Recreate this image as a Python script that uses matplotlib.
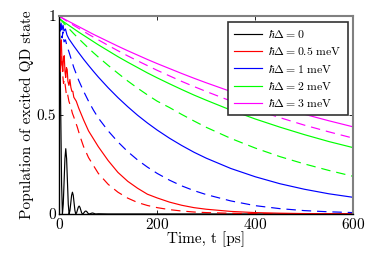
import numpy as np
import matplotlib
matplotlib.use('Agg')
import matplotlib.pyplot as plt

plt.rcParams['font.family'] = 'serif'
plt.rcParams['font.serif'] = ['cmr10', 'DejaVu Serif']
plt.rcParams['mathtext.fontset'] = 'cm'
plt.rcParams['axes.formatter.use_mathtext'] = True

# common time grid for the smooth curves [ps]
t_smooth = [0, 10, 20, 30, 40, 50, 60, 70, 80, 100, 120, 140, 160, 180, 200,
            225, 250, 275, 300, 350, 400, 450, 500, 550, 600]

# hbar*Delta = 3 meV
mag_solid = [1.000, 0.986, 0.973, 0.960, 0.947, 0.934, 0.921, 0.908, 0.896, 0.872,
             0.848, 0.825, 0.803, 0.781, 0.760, 0.735, 0.710, 0.686, 0.663, 0.619,
             0.578, 0.540, 0.504, 0.471, 0.440]
mag_dash = [1.000, 0.984, 0.968, 0.953, 0.938, 0.923, 0.908, 0.894, 0.880, 0.852,
            0.825, 0.799, 0.774, 0.750, 0.726, 0.698, 0.670, 0.644, 0.619, 0.571,
            0.527, 0.487, 0.449, 0.415, 0.383]

# hbar*Delta = 2 meV
grn_solid = [0.988, 0.970, 0.953, 0.936, 0.919, 0.903, 0.887, 0.871, 0.855, 0.825,
             0.795, 0.767, 0.740, 0.713, 0.688, 0.658, 0.629, 0.601, 0.575, 0.525,
             0.480, 0.439, 0.401, 0.366, 0.335]
grn_dash = [0.990, 0.963, 0.937, 0.911, 0.886, 0.862, 0.838, 0.815, 0.793, 0.751,
            0.711, 0.672, 0.636, 0.602, 0.570, 0.538, 0.503, 0.470, 0.438, 0.382,
            0.333, 0.290, 0.253, 0.220, 0.190]

# hbar*Delta = 1 meV
t_blue = [0, 2, 4, 6, 8, 10, 13, 16, 20, 30, 40, 50, 60, 70, 80, 100, 120, 140,
          160, 180, 200, 225, 250, 275, 300, 350, 400, 450, 500, 550, 600]
blu_solid = [0.975, 0.94, 0.965, 0.93, 0.955, 0.925, 0.935, 0.905, 0.885, 0.849,
             0.815, 0.782, 0.751, 0.721, 0.692, 0.638, 0.588, 0.542, 0.499, 0.460,
             0.424, 0.383, 0.346, 0.312, 0.282, 0.230, 0.188, 0.153, 0.125, 0.102,
             0.084]
blu_dash = [0.975, 0.91, 0.95, 0.89, 0.92, 0.87, 0.88, 0.85, 0.82, 0.74, 0.675,
            0.62, 0.57, 0.525, 0.485, 0.42, 0.364, 0.315, 0.273, 0.237, 0.205,
            0.171, 0.142, 0.118, 0.098, 0.066, 0.042, 0.027, 0.017, 0.011, 0.007]

# hbar*Delta = 0.5 meV
t_red_s = [0, 1.5, 3, 4.5, 6, 7.5, 9, 10.5, 12, 13.5, 15, 16.5, 18, 20, 22, 24,
           26, 28, 30, 35, 40, 50, 60, 70, 80, 100, 120, 140, 160, 180, 200, 225,
           250, 275, 300, 350, 400, 450, 500, 550, 600]
red_solid = [1.0, 0.74, 0.85, 0.88, 0.76, 0.72, 0.79, 0.80, 0.72, 0.69, 0.74, 0.73,
             0.67, 0.65, 0.68, 0.64, 0.62, 0.62, 0.59, 0.57, 0.535, 0.475, 0.42,
             0.38, 0.34, 0.27, 0.21, 0.165, 0.13, 0.10, 0.081, 0.06, 0.044, 0.032,
             0.024, 0.013, 0.007, 0.004, 0.002, 0.001, 0.0005]
t_red_d = [0, 1.5, 3, 4.5, 6, 7.5, 9, 11, 13, 15, 17, 20, 24, 27, 30, 37, 43, 50,
           60, 70, 80, 100, 120, 140, 160, 180, 200, 225, 250, 275, 300, 350, 400,
           450, 500, 550, 600]
red_dash = [1.0, 0.78, 0.72, 0.80, 0.78, 0.70, 0.66, 0.68, 0.64, 0.60, 0.61, 0.57,
            0.54, 0.51, 0.49, 0.44, 0.39, 0.34, 0.285, 0.245, 0.205, 0.15, 0.11,
            0.08, 0.058, 0.043, 0.032, 0.022, 0.015, 0.010, 0.007, 0.0035, 0.0015,
            0.0007, 0.0003, 0.0001, 0.0]

# hbar*Delta = 0
t_black = [0, 1.7, 3.4, 5.1, 6.8, 8.5, 10.2, 11.9, 13.6, 15.3, 17.0, 18.7, 20.4,
           22.1, 23.8, 25.5, 27.2, 28.9, 30.6, 32.3, 34.0, 35.7, 37.4, 39.1, 40.8,
           42.5, 44.2, 45.9, 47.6, 49.3, 51.0, 52.7, 54.4, 56.1, 57.8, 59.5, 61.2,
           62.9, 64.6, 66.3, 68.0, 69.7, 71.4, 73.1, 74.8, 80, 100, 600]
black = [1.0, 0.85, 0.5, 0.15, 0.0, 0.05, 0.165, 0.28, 0.33, 0.28, 0.165, 0.05, 0.0,
         0.017, 0.055, 0.094, 0.11, 0.094, 0.055, 0.017, 0.0, 0.006, 0.02, 0.034,
         0.04, 0.034, 0.02, 0.006, 0.0, 0.002, 0.0075, 0.013, 0.015, 0.013, 0.0075,
         0.002, 0.0, 0.001, 0.0025, 0.004, 0.005, 0.004, 0.0025, 0.001, 0.0, 0.001,
         0.0, 0.0]

labels = [r'$\hbar\Delta = 0$', r'$\hbar\Delta = 0.5\ \mathrm{meV}$',
          r'$\hbar\Delta = 1\ \mathrm{meV}$', r'$\hbar\Delta = 2\ \mathrm{meV}$',
          r'$\hbar\Delta = 3\ \mathrm{meV}$']

fig = plt.figure(figsize=(3.74, 2.6), dpi=100)
ax = fig.add_axes([0.158, 0.177, 0.787, 0.761])

lw = 0.85
dash = (8, 5)
ax.plot(t_black, black, color='k', lw=lw, label=labels[0])
ax.plot(t_red_s, red_solid, color='#ff0000', lw=lw, label=labels[1])
ax.plot(t_blue, blu_solid, color='#0000ff', lw=lw, label=labels[2])
ax.plot(t_smooth, grn_solid, color='#00ff00', lw=lw, label=labels[3])
ax.plot(t_smooth, mag_solid, color='#ff00ff', lw=lw, label=labels[4])
ax.plot(t_red_d, red_dash, color='#ff0000', lw=lw, dashes=dash)
ax.plot(t_blue, blu_dash, color='#0000ff', lw=lw, dashes=dash)
ax.plot(t_smooth, grn_dash, color='#00ff00', lw=lw, dashes=dash)
ax.plot(t_smooth, mag_dash, color='#ff00ff', lw=lw, dashes=dash)

ax.set_xlim(0, 600)
ax.set_ylim(0, 1)
ax.set_xticks([0, 200, 400, 600])
ax.set_yticks([0, 0.5, 1])
ax.set_yticklabels(['0', '0.5', '1'])
ax.tick_params(direction='in', length=3, width=0.6, top=True, right=True,
               labelsize=11, pad=2)
for s in ['left', 'bottom']:
    ax.spines[s].set_color('k')
    ax.spines[s].set_linewidth(1.0)
for s in ['top', 'right']:
    ax.spines[s].set_color('#808080')
    ax.spines[s].set_linewidth(1.5)

ax.set_xlabel('Time, t [ps]', fontsize=11, labelpad=0)
ax.set_ylabel('Population of excited QD state', fontsize=11, labelpad=2)

leg = ax.legend(loc='upper right', fontsize=8.5, frameon=True, fancybox=False,
                borderaxespad=0.5, handlelength=2.4, handletextpad=0.5,
                labelspacing=0.45, borderpad=0.5)
leg.get_frame().set_edgecolor('#333333')
leg.get_frame().set_linewidth(1.2)
leg.get_frame().set_alpha(1)

fig.savefig('out.png', dpi=100)
